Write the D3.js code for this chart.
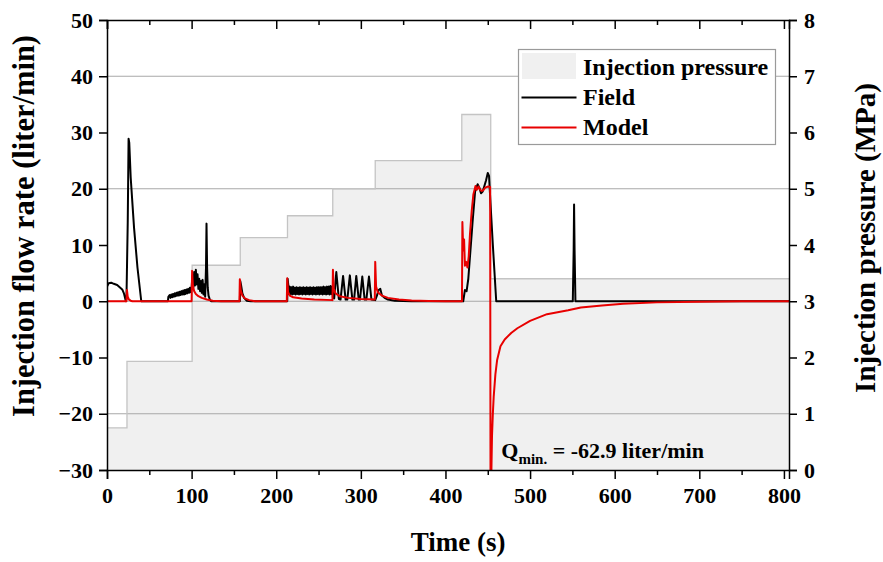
<!DOCTYPE html>
<meta charset="utf-8">
<style>
body { margin: 0; background: #fff; }
svg { display: block; }
text { font-family: "Liberation Serif", "Times New Roman", serif; font-weight: bold; }
.axis text { font-size: 22px; fill: #000; }
.axis path, .axis line { stroke: #000; stroke-width: 1.5; }
</style>
<body>
<svg></svg>
<script src="https://d3js.org/d3.v7.min.js"></script>
<script>

// pressure steps (MPa) : start times and level held until next time
var pressureTimes = [0, 23.6, 100.6, 157.5, 213.3, 266.8, 317, 419.3, 453.5, 806];
var pressureLevels = [0.75, 1.93, 3.64, 4.13, 4.52, 5.0, 5.5, 6.32, 3.4, 3.4];

// field flow rate, [time s, liter/min]
var fieldPoints = [
  [0, 2.6], [2, 3.2], [5, 3.3], [8, 3.1], [12, 2.9], [15, 2.5], [18, 2.1], [20, 1.4], [21.5, 0.5], [22.3, 0],
  [23, 0.5], [24.5, 14], [25.5, 28.9], [26.3, 28.2], [28, 22], [32, 13], [36, 6], [40.5, 0],
  [72, 0], [72.5, 0.8], [74, 1.1], [75, 0.6], [76, 1.2], [77, 0.7], [78, 1.3], [79, 0.8], [80, 1.4], [81, 0.9],
  [82, 1.5], [83, 1.0], [84, 1.6], [85, 1.0], [86, 1.7], [87, 1.1], [88, 1.8], [89, 1.2], [90, 1.9], [91, 1.2],
  [92, 2.0], [93, 1.3], [94, 2.1], [95, 1.4], [96, 2.2], [97, 1.5], [98, 2.4], [99, 1.6], [100, 2.5],
  [101, 4.5], [102, 2.5], [103, 5.2], [104, 2.8], [105, 5.6], [106, 3.0], [107, 4.8], [108, 2.2], [109, 4.0],
  [110, 1.8], [111, 3.6], [112, 1.5], [113, 3.8], [114, 1.2], [115, 3.0], [116, 0.8], [117, 6], [117.6, 13.8],
  [118.3, 6], [119, 2.5], [120, 1.0], [121.5, 0.3], [123, 0],
  [157, 0], [157.5, 3.6], [158.5, 2.8], [160, 1.4], [162, 0.6], [165, 0.1], [170, 0],
  [213, 0], [213.5, 4.0], [214.5, 2.5], [215, 1.3], [216, 2.6], [217, 1.3], [218, 2.5], [219, 1.2], [220, 2.6],
  [221, 1.3], [222, 2.4], [223, 1.2], [224, 2.5], [225, 1.3], [226, 2.4], [227, 1.2], [228, 2.5], [229, 1.3],
  [230, 2.4], [231, 1.2], [232, 2.5], [233, 1.3], [234, 2.4], [235, 1.2], [236, 2.5], [237, 1.3], [238, 2.4],
  [239, 1.2], [240, 2.5], [241, 1.3], [242, 2.4], [243, 1.2], [244, 2.5], [245, 1.3], [246, 2.4], [247, 1.2],
  [248, 2.5], [249, 1.3], [250, 2.5], [251, 1.2], [252, 2.5], [253, 1.3], [254, 2.5], [255, 1.2], [256, 2.6],
  [257, 1.3], [258, 2.5], [259, 1.2], [260, 2.6], [261, 1.3], [262, 2.6], [263, 1.2], [264, 2.7], [265, 1.3],
  [266, 2.6], [267, 0.6], [268.5, 0.5],
  [271, 5.2], [274, 0.4], [276, 0.3], [279, 4.5], [282, 0.3], [284, 0.3], [287, 4.6], [290, 0.3], [292, 0.3],
  [294.6, 4.5], [297.5, 0.3], [299, 0.3], [301.7, 4.4], [304.5, 0.3], [306.5, 0.3], [309.6, 4.4], [312.5, 0.3],
  [317, 0.2], [319, 1.0], [321, 2.0], [323, 2.2], [325, 1.0], [328, 0.6], [332, 0.3], [340, 0.1], [360, 0],
  [421, 0], [423, 2], [425, 1.8], [427, 4], [429, 8], [432, 14], [435, 19.5], [438, 20.8], [440, 20.2],
  [442, 19.2], [444, 19.5], [446, 20.5], [448, 21.5], [450, 22.8], [451.5, 22.3], [453, 18], [456, 10], [460, 0],
  [550.5, 0], [551.5, 9], [552, 17.2], [552.6, 9], [553.6, 0], [806, 0]
];

// model flow rate, [time s, liter/min]
var modelPoints = [
  [0, 0], [23, 0], [23.6, 2.0], [24.5, 0.8], [26, 0.3], [28, 0.1], [30, 0],
  [100, 0], [100.6, 5.4], [101.5, 2.8], [103, 1.8], [105, 1.3], [108, 0.9], [112, 0.6], [118, 0.3], [125, 0.1], [135, 0],
  [156.5, 0], [157, 3.9], [158, 2.0], [160, 1.0], [163, 0.5], [168, 0.2], [175, 0],
  [212.5, 0], [213, 4.1], [214, 1.6], [216, 1.0], [220, 0.7], [230, 0.5], [245, 0.3], [266.5, 0.2],
  [267, 5.6], [268, 2.2], [270, 1.4], [275, 0.9], [285, 0.6], [300, 0.4], [316.5, 0.3],
  [317, 7.0], [318, 2.6], [320, 1.6], [325, 1.0], [332, 0.6], [345, 0.3], [360, 0.15], [380, 0.05], [400, 0], [419.5, 0],
  [420, 14.1], [421, 9], [422, 11], [423, 6.3], [424.5, 7], [426, 6], [427.5, 8], [429, 12], [431, 16], [433, 19],
  [435.5, 20.5], [437, 19.8], [439, 20.4], [441, 19.8], [443, 19.6], [445, 19.8], [447, 20.2], [450.5, 20.4],
  [452.8, 20.3], [453.5, -62.9], [454.3, -30], [455, -24], [456, -20], [457, -17], [459, -13], [461, -10.5],
  [465, -8], [470, -6.8], [478, -5.6], [485, -4.8], [500, -3.5], [520, -2.3], [545, -1.6], [560, -1.1],
  [585, -0.75], [610, -0.45], [650, -0.2], [700, -0.07], [750, 0], [806, 0]
];

var flowTicks = [-30, -20, -10, 0, 10, 20, 30, 40, 50];
var pressureTicks = [0, 1, 2, 3, 4, 5, 6, 7, 8];
var gridPressure = [1, 3, 5, 7];
var timeTicks = [0, 100, 200, 300, 400, 500, 600, 700, 800];
var timeMinor = [50, 150, 250, 350, 450, 550, 650, 750];

var W = 883, H = 562;
var margin = {top: 20, right: 94, bottom: 92, left: 107},
    width = W - margin.left - margin.right,
    height = H - margin.top - margin.bottom;

var svg = d3.select("svg").attr("width", W).attr("height", H);
var g = svg.append("g").attr("transform", "translate(" + margin.left + "," + margin.top + ")");

var x = d3.scaleLinear().domain([0, 806]).range([0, width]);
var y = d3.scaleLinear().domain([-30, 50]).range([height, 0]);
var yp = d3.scaleLinear().domain([0, 8]).range([height, 0]);

g.append("defs").append("clipPath").attr("id", "clip")
  .append("rect").attr("width", width).attr("height", height);

// pressure step area
var pData = pressureTimes.map(function(t, i) { return [t, pressureLevels[i]]; });
g.append("path")
  .datum(pData)
  .attr("fill", "#f0f0f0")
  .attr("d", d3.area().curve(d3.curveStepAfter)
    .x(function(d) { return x(d[0]); })
    .y0(height)
    .y1(function(d) { return yp(d[1]); }));

// grid
g.selectAll(".grid").data(gridPressure).enter().append("line")
  .attr("x1", 0).attr("x2", width)
  .attr("y1", function(d) { return yp(d); }).attr("y2", function(d) { return yp(d); })
  .attr("stroke", "#a8a8a8").attr("stroke-width", 1.2);

g.append("path")
  .datum(pData)
  .attr("fill", "none")
  .attr("stroke", "#c4c4c4")
  .attr("stroke-width", 1.3)
  .attr("d", d3.line().curve(d3.curveStepAfter)
    .x(function(d) { return x(d[0]); })
    .y(function(d) { return yp(d[1]); }));

var line = d3.line().x(function(d) { return x(d[0]); }).y(function(d) { return y(d[1]); });

g.append("path").datum(fieldPoints)
  .attr("clip-path", "url(#clip)")
  .attr("fill", "none").attr("stroke", "#000").attr("stroke-width", 2)
  .attr("stroke-linejoin", "round")
  .attr("d", line);

g.append("path").datum(modelPoints)
  .attr("clip-path", "url(#clip)")
  .attr("fill", "none").attr("stroke", "#e80000").attr("stroke-width", 2)
  .attr("stroke-linejoin", "round")
  .attr("d", line);

// axes
g.append("g").attr("class", "axis")
  .call(d3.axisLeft(y).tickValues(flowTicks).tickSize(8).tickPadding(6));

g.append("g").attr("class", "axis")
  .attr("transform", "translate(" + width + ",0)")
  .call(d3.axisRight(yp).tickValues(pressureTicks).tickSize(8).tickPadding(7));

g.append("g").attr("class", "axis")
  .attr("transform", "translate(0," + height + ")")
  .call(d3.axisBottom(x).tickValues(timeTicks).tickSize(9).tickPadding(8));

g.append("g").attr("class", "axis")
  .attr("transform", "translate(0," + height + ")")
  .call(d3.axisBottom(x).tickValues(timeMinor).tickSize(5).tickFormat(""))
  .select(".domain").remove();

g.append("g").attr("class", "axis")
  .call(d3.axisTop(x).tickValues(timeTicks).tickSize(-9).tickFormat(""));

g.append("g").attr("class", "axis")
  .call(d3.axisTop(x).tickValues(timeMinor).tickSize(-5).tickFormat(""))
  .select(".domain").remove();

g.selectAll(".axis .domain").attr("stroke-width", 1.8);

// axis titles
svg.append("text")
  .attr("transform", "translate(34,226) rotate(-90)")
  .attr("text-anchor", "middle").attr("font-size", 30.5)
  .text("Injection flow rate (liter/min)");

svg.append("text")
  .attr("transform", "translate(875,238) rotate(-90)")
  .attr("text-anchor", "middle").attr("font-size", 29)
  .text("Injection pressure (MPa)");

svg.append("text")
  .attr("x", margin.left + x(415)).attr("y", 551)
  .attr("text-anchor", "middle").attr("font-size", 27)
  .text("Time (s)");

// annotation
var ann = g.append("text")
  .attr("x", x(466)).attr("y", y(-27.9))
  .attr("font-size", 22);
ann.append("tspan").text("Q");
ann.append("tspan").attr("font-size", 15).attr("dy", 6).text("min.");
ann.append("tspan").attr("dy", -6).text(" = -62.9 liter/min");

// legend
var lg = svg.append("g").attr("transform", "translate(518.5,49.5)");
lg.append("rect").attr("width", 257).attr("height", 95)
  .attr("fill", "#fff").attr("stroke", "#9a9a9a").attr("stroke-width", 1.2);
lg.append("rect").attr("x", 3.5).attr("y", 3.5).attr("width", 54).attr("height", 26).attr("fill", "#f0f0f0");
lg.append("line").attr("x1", 3).attr("x2", 58).attr("y1", 48).attr("y2", 48)
  .attr("stroke", "#000").attr("stroke-width", 2);
lg.append("line").attr("x1", 3).attr("x2", 58).attr("y1", 78).attr("y2", 78)
  .attr("stroke", "#e80000").attr("stroke-width", 2);
var legendNames = ["Injection pressure", "Field", "Model"];
lg.selectAll(".lt").data(legendNames).enter().append("text")
  .attr("x", 64.5).attr("y", function(d, i) { return 25.5 + i * 30; })
  .attr("font-size", 24)
  .text(function(d) { return d; });

</script>
